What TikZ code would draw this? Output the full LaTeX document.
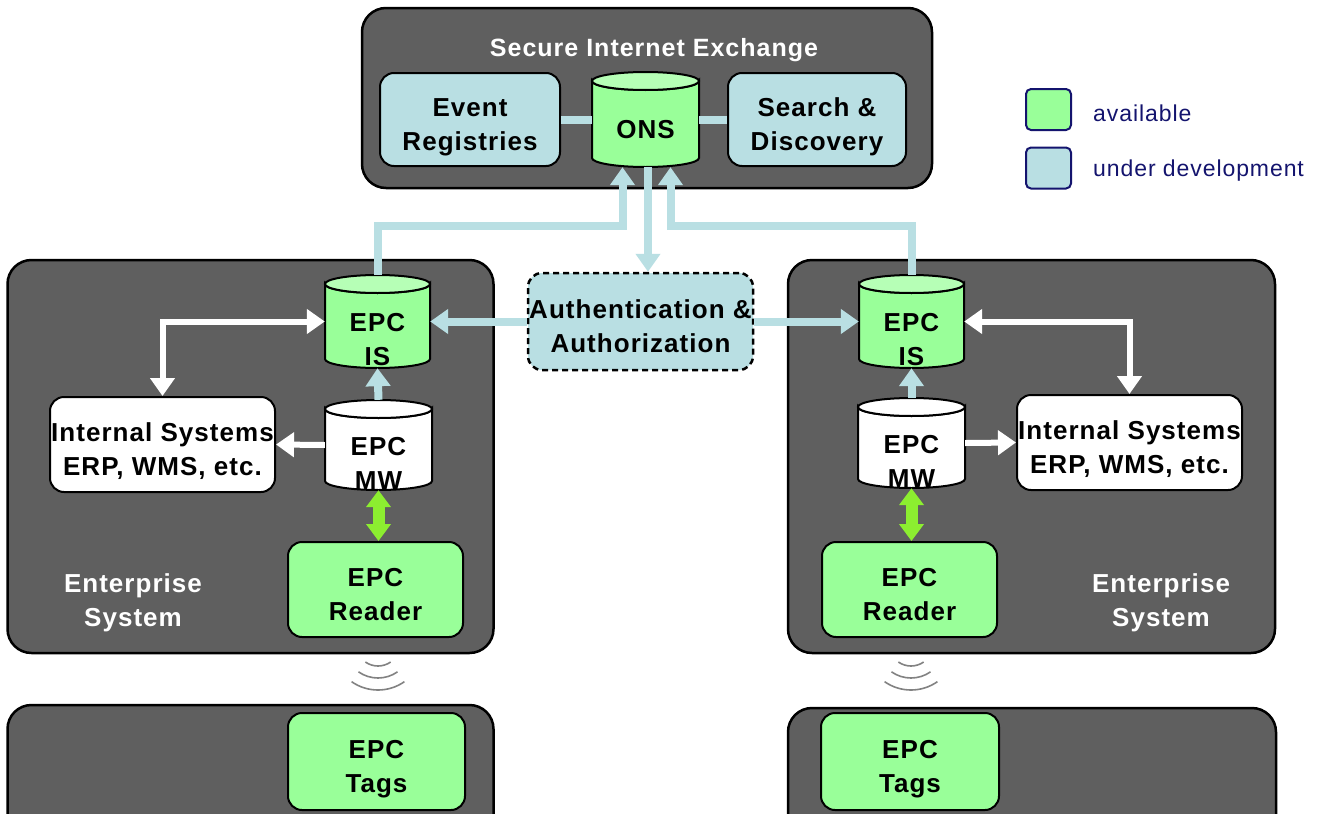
\documentclass[tikz,border=0pt]{standalone}
\usepackage{fontspec}
\setmainfont[LetterSpace=4]{Liberation Sans}
\usetikzlibrary{arrows.meta,calc}
\definecolor{dkgray}{RGB}{95,95,95}
\definecolor{avgreen}{RGB}{153,255,153}
\definecolor{ltgreen}{RGB}{182,255,182}
\definecolor{devblue}{RGB}{185,223,227}
\definecolor{arrgreen}{RGB}{140,238,48}
\definecolor{navy}{RGB}{20,20,110}
\definecolor{wavegray}{RGB}{130,130,130}
\newcommand\bigfont{\fontsize{26}{34}\selectfont\bfseries}
\newcommand\bt[2]{\begin{tabular}{@{}c@{}}\rule{0pt}{39pt}#1\\#2\end{tabular}}
\tikzset{
 darkbox/.style={draw=black, line width=2.5pt, fill=dkgray, rounded corners=24pt, inner sep=0pt},
 ibox/.style={draw=black, line width=2pt, rounded corners=14pt, inner sep=0pt, font=\bigfont},
 cylline/.style={draw=black, line width=2pt},
 btext/.style={font=\bigfont, align=center, inner sep=0pt},
 wtext/.style={btext, text=white},
 bline/.style={draw=devblue, line width=8pt},
 barrow/.style={bline, -{Triangle[width=24pt,length=18pt]}},
 wbarrow/.style={draw=white, line width=6pt, -{Triangle[width=24pt,length=18pt]}},
 wbboth/.style={draw=white, line width=6pt, {Triangle[width=24pt,length=18pt]}-{Triangle[width=24pt,length=18pt]}},
 gboth/.style={draw=arrgreen, line width=12pt, {Triangle[width=24pt,length=17pt]}-{Triangle[width=24pt,length=17pt]}},
 legsq/.style={draw=navy, line width=2pt, rounded corners=5pt, minimum width=45pt, minimum height=41pt, inner sep=0pt},
 legtext/.style={text=navy, font=\fontsize{23}{27}\selectfont, anchor=west, inner sep=0pt},
 wave/.style={draw=wavegray, line width=1.6pt},
}
% name, cx, cy, w, h, fill, top fill, text shift, text
\newcommand\dbcyl[9]{%
 \filldraw[fill=#6, cylline] ({#2-#4/2},{#3-#5/2+9}) -- ({#2-#4/2},{#3+#5/2-9})
   arc[start angle=180,end angle=0,x radius=#4/2,y radius=9]
   -- ({#2+#4/2},{#3-#5/2+9})
   arc[start angle=0,end angle=180,x radius=#4/2,y radius=9] -- cycle;
 \filldraw[fill=#7, cylline] (#2,{#3-#5/2+9}) ellipse[x radius=#4/2, y radius=9];
 \node[inner sep=0pt, minimum width=#4pt, minimum height=#5pt] (#1) at (#2,#3) {};
 \node[btext] (#1txt) at (#2,{#3+#8}) {#9};
}
\begin{document}
\begin{tikzpicture}[x=1pt,y=-1pt]
\clip (0,0) rectangle (1334,814);
\fill[white] (0,0) rectangle (1334,814);

% Secure Internet Exchange
\node[darkbox, minimum width=570pt, minimum height=180pt] (sie) at (647,98) {};
\node[wtext, font=\fontsize{25}{30}\selectfont\bfseries] (sietitle) at (654,50) {Secure Internet Exchange};
\node[ibox, fill=devblue, minimum width=180pt, minimum height=93pt] (er) at (470,119.5) {\bt{Event}{Registries}};
\node[ibox, fill=devblue, minimum width=178pt, minimum height=93pt] (sd) at (817,119.5) {\bt{Search \&}{Discovery}};
\dbcyl{ons}{645.5}{119.5}{107}{95}{avgreen}{ltgreen}{10}{ONS}

% legend
\node[legsq, fill=avgreen] (legA) at (1048.5,109.5) {};
\node[legtext] (legAt) at (1093,113) {available};
\node[legsq, fill=devblue] (legB) at (1048.5,168) {};
\node[legtext] (legBt) at (1093,171) {under development};

% Enterprise systems
\node[darkbox, minimum width=486pt, minimum height=393pt] (entboxL) at (250.5,456.5) {};
\node[darkbox, minimum width=487pt, minimum height=393pt] (entboxR) at (1031.5,456.5) {};
\node[wtext] (entL) at (133,603) {Enterprise\\System};
\node[wtext] (entR) at (1161,603) {Enterprise\\System};

% bottom tag areas
\node[darkbox, minimum width=486pt, minimum height=150pt] (botL) at (250.5,780) {};
\node[darkbox, minimum width=488pt, minimum height=150pt] (botR) at (1032,783) {};
\node[ibox, fill=avgreen, minimum width=177pt, minimum height=97pt] (tagL) at (376.5,761.5) {\bt{EPC}{Tags}};
\node[ibox, fill=avgreen, minimum width=178pt, minimum height=97pt] (tagR) at (910,761.5) {\bt{EPC}{Tags}};

% authentication
\node[ibox, fill=devblue, dash pattern=on 6pt off 4pt, line width=2.5pt, minimum width=225pt, minimum height=97pt] (auth) at (640.5,321.5) {\bt{Authentication \&}{Authorization}};

% left enterprise contents
\dbcyl{isL}{377.5}{321.5}{105}{93}{avgreen}{ltgreen}{18}{EPC\\IS}
\dbcyl{mwL}{378.5}{445}{107}{90}{white}{white}{18}{EPC\\MW}
\node[ibox, fill=white, minimum width=225pt, minimum height=95pt] (intL) at (162.5,444.5) {\bt{Internal Systems}{ERP, WMS, etc.}};
\node[ibox, fill=avgreen, minimum width=175pt, minimum height=95pt] (rdL) at (375.5,589.5) {\bt{EPC}{Reader}};

% right enterprise contents
\dbcyl{isR}{911.5}{321.5}{105}{93}{avgreen}{ltgreen}{18}{EPC\\IS}
\dbcyl{mwR}{911.5}{443}{107}{90}{white}{white}{18}{EPC\\MW}
\node[ibox, fill=white, minimum width=225pt, minimum height=95pt] (intR) at (1129.5,442.5) {\bt{Internal Systems}{ERP, WMS, etc.}};
\node[ibox, fill=avgreen, minimum width=175pt, minimum height=95pt] (rdR) at (909.5,589.5) {\bt{EPC}{Reader}};

% connectors
\draw[bline] (er.east) -- (ons.west);
\draw[bline] (ons.east) -- (sd.west);
\draw[barrow] (isL.north) |- ($(ons.south)+(-23,59)$) -- ($(ons.south)+(-23,0)$);
\draw[barrow] (isR.north) |- ($(ons.south)+(25,59)$) -- ($(ons.south)+(25,0)$);
\draw[barrow] ($(ons.south)+(2.5,0)$) -- ($(ons.south |- auth.north)+(2.5,0)$);
\draw[barrow] (auth.west) -- (isL.east);
\draw[barrow] (auth.east) -- (isR.west);

\draw[barrow] (mwL.north) -- (isL.south);
\draw[barrow] (mwR.north) -- (isR.south);
\draw[wbboth] (isL.west) -| (intL.north);
\draw[wbboth] (isR.east) -| (intR.north);
\draw[wbarrow] (mwL.west) -- (intL.east);
\draw[wbarrow] (mwR.east) -- (intR.west);
\draw[gboth] (mwL.south) -- (mwL.south |- rdL.north);
\draw[gboth] (mwR.south) -- (mwR.south |- rdR.north);

% radio waves
\foreach \r in {22,34,46}{
 \draw[wave] ($(rdL.south)+(2.5,6)$) ++(55:\r) arc[start angle=55,end angle=125,radius=\r];
 \draw[wave] ($(rdR.south)+(1.5,6)$) ++(55:\r) arc[start angle=55,end angle=125,radius=\r];
}
\end{tikzpicture}
\end{document}
